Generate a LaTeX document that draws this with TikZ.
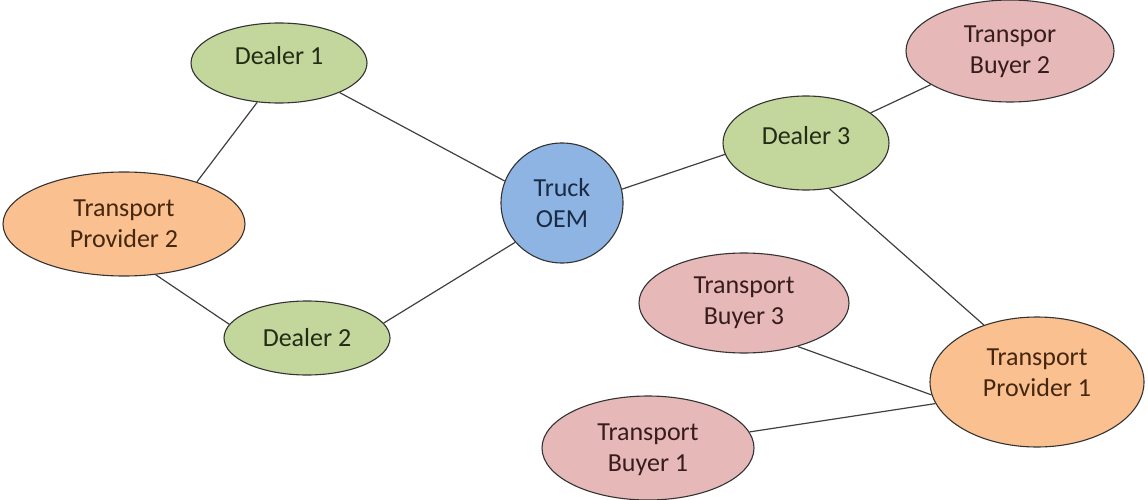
\documentclass[tikz,border=0pt]{standalone}
\usepackage{fontspec}
\setmainfont{Carlito}
\usetikzlibrary{shapes.geometric}
\definecolor{gfill}{HTML}{C3D69B}
\definecolor{ofill}{HTML}{FAC090}
\definecolor{pfill}{HTML}{E6B9B8}
\definecolor{bfill}{HTML}{8EB4E3}
\definecolor{gtext}{HTML}{222C16}
\definecolor{otext}{HTML}{45260F}
\definecolor{ptext}{HTML}{381C1C}
\definecolor{btext}{HTML}{1A2B45}
\definecolor{edgecol}{HTML}{404040}
\definecolor{bordercol}{HTML}{333333}
\tikzset{
  blob/.style={ellipse, draw=bordercol, line width=1.1pt, inner sep=0pt},
  lbl/.style={font=\fontsize{26}{31}\selectfont, align=center, inner sep=0pt},
  dealer/.style={blob, fill=gfill},
  provider/.style={blob, fill=ofill},
  buyer/.style={blob, fill=pfill},
  oemstyle/.style={blob, fill=bfill},
  gl/.style={lbl, text=gtext},
  ol/.style={lbl, text=otext},
  pl/.style={lbl, text=ptext},
  bl/.style={lbl, text=btext},
  link/.style={draw=edgecol, line width=1.2pt}
}
\begin{document}
\begin{tikzpicture}[x=1pt, y=-1pt]
\useasboundingbox (0,0) rectangle (1148,500);
% nodes
\node[dealer, minimum width=176pt, minimum height=80pt,
      label={[gl, yshift=7pt]center:Dealer 1}] (d1) at (279,63) {};
\node[provider, minimum width=242pt, minimum height=104pt,
      label={[ol]center:Transport\\Provider 2}] (tp2) at (124,224) {};
\node[dealer, minimum width=166pt, minimum height=74pt,
      label={[gl]center:Dealer 2}] (d2) at (307,338) {};
\node[oemstyle, minimum width=122pt, minimum height=120pt,
      label={[bl]center:Truck\\OEM}] (oem) at (562,203) {};
\node[dealer, minimum width=166pt, minimum height=94pt,
      label={[gl, yshift=7pt]center:Dealer 3}] (d3) at (806,143) {};
\node[buyer, minimum width=208pt, minimum height=102pt,
      label={[pl, yshift=-1pt]center:Transpor\\Buyer 2}] (tb2) at (1010,51) {};
\node[buyer, minimum width=210pt, minimum height=100pt,
      label={[pl]center:Transport\\Buyer 3}] (tb3) at (744,303) {};
\node[provider, minimum width=214pt, minimum height=130pt,
      label={[ol, yshift=9pt]center:Transport\\Provider 1}] (tp1) at (1037,382) {};
\node[buyer, minimum width=212pt, minimum height=104pt,
      label={[pl, yshift=-2pt]center:Transport\\Buyer 1}] (tb1) at (648,448) {};
% connectors
\draw[link] (d1.241.7) -- (tp2.30.7);
\draw[link] (d1.-26.2) -- (oem.159.5);
\draw[link] (tp2.-58.9) -- (d2.170.5);
\draw[link] (d2.11.7) -- (oem.220.4);
\draw[link] (oem.13.1) -- (d3.188.3);
\draw[link] (d3.25) -- (tb2.203);
\draw[link] (d3.-63) -- (tp1.133.6);
\draw[link] (tb3.-39.4) -- (tp1.187);
\draw[link] (tb1.9.2) -- (tp1.192);
\end{tikzpicture}
\end{document}
